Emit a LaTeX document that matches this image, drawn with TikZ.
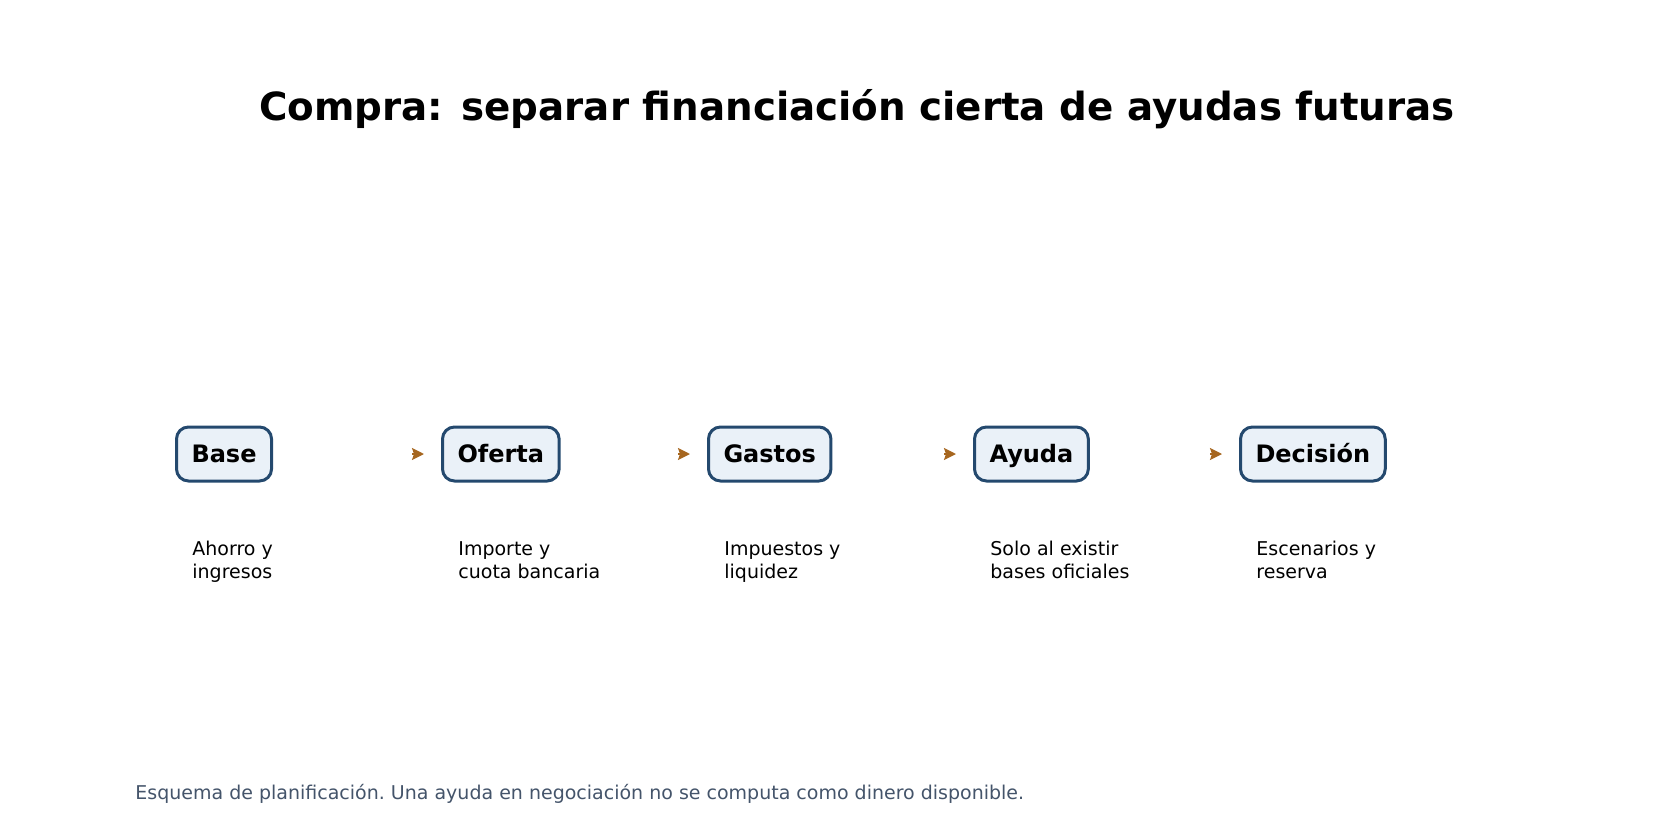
\documentclass[tikz,border=0pt]{standalone}
\usepackage{fontspec}
\setmainfont{DejaVu Sans}
\usetikzlibrary{arrows.meta,positioning}
\definecolor{boxfill}{HTML}{EAF1F8}
\definecolor{boxline}{HTML}{24496E}
\definecolor{arrowc}{HTML}{A6661F}
\definecolor{footc}{HTML}{44546A}
\tikzset{
  stepbox/.style={draw=boxline, fill=boxfill, line width=1.5pt, rounded corners=6pt,
    inner xsep=7.5pt, inner ysep=0pt, minimum height=27pt, anchor=west,
    text height=10pt, text depth=2pt,
    font=\fontsize{12pt}{14pt}\selectfont\bfseries},
  sublabel/.style={anchor=base west, align=left, inner sep=0pt,
    font=\fontsize{9.5pt}{11.5pt}\selectfont},
  arr/.style={draw=arrowc, fill=arrowc, line width=1pt,
    -{Stealth[length=6pt,width=6pt,inset=1pt]}},
}
\begin{document}
\begin{tikzpicture}[x=0.5pt,y=-0.5pt]
\useasboundingbox (0,0) rectangle (1680,840);
\node[anchor=base, font=\fontsize{19.4pt}{23pt}\selectfont\bfseries] (title) at (857,120)
  {Compra: separar financiación cierta de ayudas futuras};

\node[stepbox] (b1) at (175,454) {Base};
\node[stepbox] (b2) at (441,454) {Oferta};
\node[stepbox] (b3) at (707,454) {Gastos};
\node[stepbox] (b4) at (973,454) {Ayuda};
\node[stepbox] (b5) at (1239,454) {Decisión};

\node[sublabel] (s1) at (192,578) {Ahorro y\\ingresos};
\node[sublabel] (s2) at (458,578) {Importe y\\cuota bancaria};
\node[sublabel] (s3) at (724,578) {Impuestos y\\liquidez};
\node[sublabel] (s4) at (990,578) {Solo al existir\\bases oficiales};
\node[sublabel] (s5) at (1256,578) {Escenarios y\\reserva};

\foreach \n in {b2,b3,b4,b5}
  \draw[arr] ([xshift=-14.5pt]\n.west) -- ([xshift=-8.5pt]\n.west);

\node[anchor=base west, inner sep=0pt, text=footc, font=\fontsize{9.5pt}{11.5pt}\selectfont] (foot) at (135,799)
  {\frenchspacing Esquema de planificación. Una ayuda en negociación no se computa como dinero disponible.};
\end{tikzpicture}
\end{document}
